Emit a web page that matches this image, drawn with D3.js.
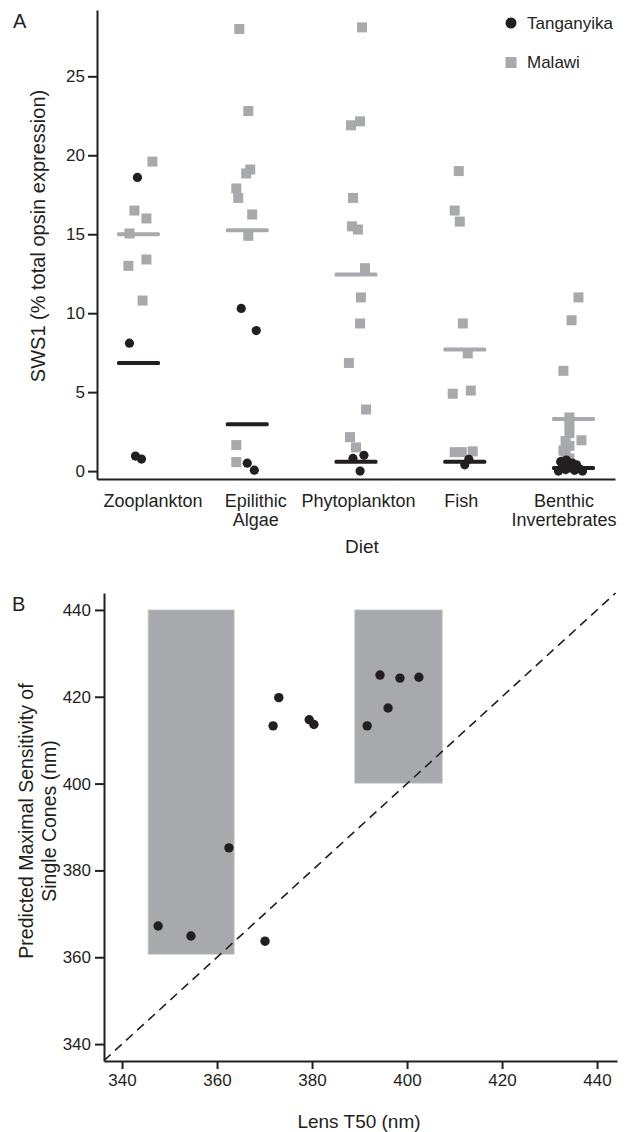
<!doctype html>
<html lang="en">
<head>
  <meta charset="utf-8">
  <script src="https://d3js.org/d3.v7.min.js"></script>
  <title>SWS1 expression and lens transmission</title>
  <style type="text/css">
    html, body { margin: 0; padding: 0; background: #fff; }
    svg { display: block; }
    text { font-family: "Liberation Sans", Arial, sans-serif; fill: #231f20; }
  </style>
</head>
<body>
<script>
  // ---- panel A data: SWS1 (% of total opsin expression) by diet ----
  var diets = ["Zooplankton", "Epilithic Algae", "Phytoplankton", "Fish", "Benthic Invertebrates"];
  var lakes = ["Tanganyika", "Malawi"];
  var sws1Ticks = [0, 5, 10, 15, 20, 25];

  // one list per diet; jitter is the horizontal spread inside the category (-1..1)
  var malawiValues = [
    [19.6, 16.5, 16.0, 15.05, 13.4, 13.0, 10.8],
    [28.0, 22.8, 19.1, 18.85, 17.9, 17.3, 16.25, 14.9, 1.65, 0.57],
    [28.1, 22.15, 21.9, 17.3, 15.5, 15.3, 12.85, 11.0, 9.35, 6.85, 3.9, 2.15, 1.5],
    [19.0, 16.5, 15.8, 9.35, 7.45, 5.1, 4.9, 1.25, 1.2, 1.2],
    [11.0, 9.55, 6.35, 3.4, 2.9, 2.4, 1.95, 1.9, 1.6, 1.3, 1.0, 0.8]
  ];
  var malawiJitter = [
    [0.65, -0.19, 0.37, -0.42, 0.37, -0.47, 0.19],
    [-0.37, 0.05, 0.14, -0.05, -0.51, -0.42, 0.23, 0.05, -0.51, -0.51],
    [0.28, 0.19, -0.23, -0.14, -0.19, 0.09, 0.42, 0.23, 0.19, -0.33, 0.47, -0.28, 0],
    [-0.28, -0.47, -0.23, -0.09, 0.14, 0.28, -0.56, 0.37, -0.47, -0.14],
    [0.23, -0.09, -0.47, -0.19, -0.19, -0.19, 0.37, -0.37, -0.19, -0.47, -0.37, -0.19]
  ];
  var tanganyikaValues = [
    [18.6, 8.1, 0.95, 0.76],
    [10.3, 8.9, 0.5, 0.06],
    [1.0, 0.8, 0.0],
    [0.75, 0.4],
    [0.7, 0.6, 0.5, 0.4, 0.3, 0.2, 0.15, 0.1, 0.05, 0.0, 0.0]
  ];
  var tanganyikaJitter = [
    [-0.05, -0.42, -0.14, 0.14],
    [-0.28, 0.42, 0, 0.33],
    [0.37, -0.14, 0.19],
    [0.19, 0],
    [-0.33, -0.6, -0.05, 0.14, -0.51, -0.19, 0.28, -0.37, 0.05, 0.42, -0.7]
  ];
  var malawiMeans = [15.0, 15.25, 12.45, 7.7, 3.3];
  var tanganyikaMeans = [6.84, 2.97, 0.6, 0.6, 0.2];

  // ---- panel B data: lens T50 vs predicted single cone lambda max ----
  var lensT50 = [347.6, 354.5, 362.5, 370.1, 371.8, 373.0, 379.4, 380.4, 391.6, 394.3, 396.0, 398.5, 402.5];
  var coneLmax = [367.2, 364.9, 385.2, 363.7, 413.3, 419.8, 414.7, 413.6, 413.3, 425.0, 417.4, 424.3, 424.5];
  var boxLens = [[345.5, 363.6], [389.0, 407.4]];
  var boxLmax = [[360.7, 440], [400.1, 440]];
  var nmTicks = [340, 360, 380, 400, 420, 440];

  var ink = "#231f20", grey = "#a7a9ac";

  var svg = d3.select("body").append("svg")
    .attr("width", 628)
    .attr("height", 1132);

  function styleAxis(g) {
    g.select(".domain").attr("stroke", ink).attr("stroke-width", 2);
    g.selectAll(".tick line").attr("stroke", ink).attr("stroke-width", 2);
    g.selectAll(".tick text").style("font-size", "17px").attr("fill", ink);
  }

  // ================= Panel A =================
  var xA = d3.scaleBand()
    .domain(diets)
    .range([97, 615])
    .paddingInner(0.605)
    .paddingOuter(0.184);
  // category labels sit a bit differently from the bands in the original
  var xLabel = d3.scalePoint().domain(diets).range([153, 564]);
  var yA = d3.scaleLinear().domain([-0.5, 29.2]).range([479, 10]);
  var jitter = d3.scaleLinear().domain([-1, 1]).range([-xA.bandwidth() / 2, xA.bandwidth() / 2]);

  svg.append("g")
    .attr("transform", "translate(97,0)")
    .call(d3.axisLeft(yA).tickValues(sws1Ticks).tickSize(9).tickSizeOuter(0).tickPadding(3))
    .call(styleAxis);

  svg.append("g")
    .attr("transform", "translate(0,479)")
    .call(d3.axisBottom(xA).tickSize(0).tickSizeOuter(0).tickFormat(""))
    .call(styleAxis);

  var catLabels = svg.append("g").selectAll("text")
    .data(diets)
    .join("text")
    .attr("x", function(d) { return xLabel(d); })
    .attr("y", 507)
    .attr("text-anchor", "middle")
    .style("font-size", "18px");
  catLabels.selectAll("tspan")
    .data(function(d) { return d.split(" ").map(function(w) { return { w: w, x: xLabel(d) }; }); })
    .join("tspan")
    .attr("x", function(t) { return t.x; })
    .attr("dy", function(t, i) { return i === 0 ? 0 : 19; })
    .text(function(t) { return t.w; });

  function flatten(values, jit) {
    var out = [];
    diets.forEach(function(diet, i) {
      values[i].forEach(function(v, j) {
        out.push({ diet: diet, value: v, j: jit[i][j] });
      });
    });
    return out;
  }

  var sq = 10;
  svg.append("g").selectAll("rect")
    .data(flatten(malawiValues, malawiJitter))
    .join("rect")
    .attr("x", function(d) { return xA(d.diet) + xA.bandwidth() / 2 + jitter(d.j) - sq / 2; })
    .attr("y", function(d) { return yA(d.value) - sq / 2; })
    .attr("width", sq)
    .attr("height", sq)
    .attr("fill", grey);

  svg.append("g").selectAll("rect")
    .data(malawiMeans)
    .join("rect")
    .attr("x", function(d, i) { return xA(diets[i]); })
    .attr("y", function(d) { return yA(d) - 2; })
    .attr("width", xA.bandwidth())
    .attr("height", 4)
    .attr("rx", 1.5)
    .attr("fill", grey);

  svg.append("g").selectAll("circle")
    .data(flatten(tanganyikaValues, tanganyikaJitter))
    .join("circle")
    .attr("cx", function(d) { return xA(d.diet) + xA.bandwidth() / 2 + jitter(d.j); })
    .attr("cy", function(d) { return yA(d.value); })
    .attr("r", 4.6)
    .attr("fill", ink);

  svg.append("g").selectAll("rect")
    .data(tanganyikaMeans)
    .join("rect")
    .attr("x", function(d, i) { return xA(diets[i]); })
    .attr("y", function(d) { return yA(d) - 2; })
    .attr("width", xA.bandwidth())
    .attr("height", 4)
    .attr("rx", 1.5)
    .attr("fill", ink);

  // legend
  var legend = svg.append("g");
  legend.append("circle").attr("cx", 511).attr("cy", 23).attr("r", 5.5).attr("fill", ink);
  legend.append("rect").attr("x", 505.5).attr("y", 57).attr("width", 11).attr("height", 11).attr("fill", grey);
  legend.selectAll("text")
    .data(lakes)
    .join("text")
    .attr("x", 527)
    .attr("y", function(d, i) { return 29 + i * 39; })
    .style("font-size", "17px")
    .text(function(d) { return d; });

  svg.append("text")
    .attr("transform", "translate(45,236) rotate(-90)")
    .attr("text-anchor", "middle")
    .style("font-size", "20px")
    .text("SWS1 (% total opsin expression)");

  svg.append("text")
    .attr("x", 362)
    .attr("y", 553)
    .attr("text-anchor", "middle")
    .style("font-size", "19px")
    .text("Diet");

  svg.append("text").attr("x", 13).attr("y", 28).style("font-size", "20px").text("A");

  // ================= Panel B =================
  var xB = d3.scaleLinear().domain([336.2, 444.2]).range([104, 617]);
  var yB = d3.scaleLinear().domain([336.1, 443.9]).range([1061, 593]);

  svg.append("g").selectAll("rect")
    .data(boxLens)
    .join("rect")
    .attr("x", function(d) { return xB(d[0]); })
    .attr("y", function(d, i) { return yB(boxLmax[i][1]); })
    .attr("width", function(d) { return xB(d[1]) - xB(d[0]); })
    .attr("height", function(d, i) { return yB(boxLmax[i][0]) - yB(boxLmax[i][1]); })
    .attr("fill", grey)
    .attr("stroke", "#c4c6c8")
    .attr("stroke-width", 0.8);

  // 1:1 reference line
  var diag = xB.domain()[0];
  svg.append("line")
    .attr("x1", xB(diag)).attr("y1", yB(diag))
    .attr("x2", xB(443.9)).attr("y2", yB(443.9))
    .attr("stroke", ink)
    .attr("stroke-width", 1.6)
    .attr("stroke-dasharray", "9,6");

  svg.append("g").selectAll("circle")
    .data(lensT50)
    .join("circle")
    .attr("cx", function(d) { return xB(d); })
    .attr("cy", function(d, i) { return yB(coneLmax[i]); })
    .attr("r", 4.7)
    .attr("fill", ink);

  svg.append("g")
    .attr("transform", "translate(104,0)")
    .call(d3.axisLeft(yB).tickValues(nmTicks).tickSize(9).tickSizeOuter(0).tickPadding(4))
    .call(styleAxis);

  svg.append("g")
    .attr("transform", "translate(0,1061)")
    .call(d3.axisBottom(xB).tickValues(nmTicks).tickSize(8).tickSizeOuter(0).tickPadding(5))
    .call(styleAxis);

  var yTitleB = svg.append("text")
    .attr("transform", "translate(33,821) rotate(-90)")
    .attr("text-anchor", "middle")
    .style("font-size", "19.5px");
  yTitleB.append("tspan").attr("x", 0).attr("dy", 0).text("Predicted Maximal Sensitivity of");
  yTitleB.append("tspan").attr("x", 0).attr("dy", 23).text("Single Cones (nm)");

  svg.append("text")
    .attr("x", 359)
    .attr("y", 1128)
    .attr("text-anchor", "middle")
    .style("font-size", "19px")
    .text("Lens T50 (nm)");

  svg.append("text").attr("x", 12).attr("y", 611).style("font-size", "20px").text("B");
</script>
</body>
</html>
